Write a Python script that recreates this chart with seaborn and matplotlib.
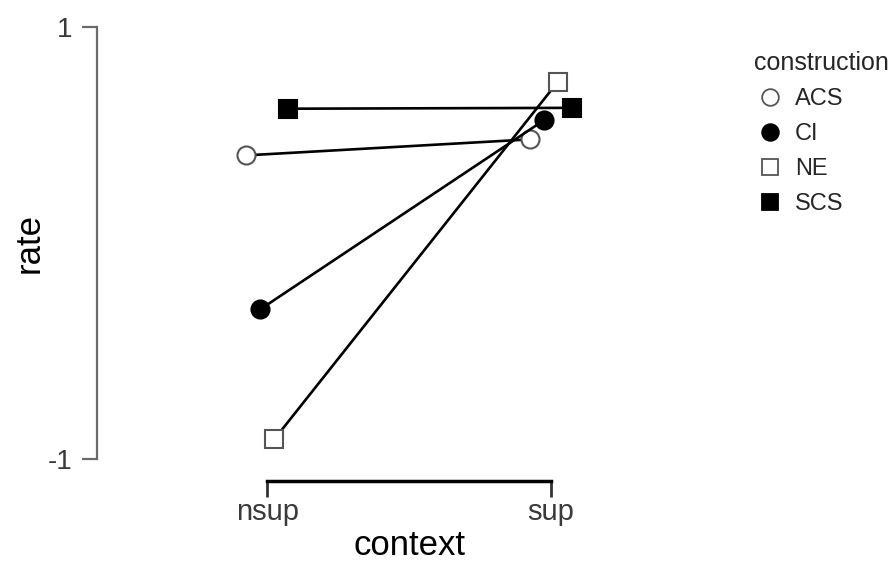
import pandas as pd
import matplotlib
matplotlib.use('Agg')
import matplotlib.pyplot as plt
import seaborn as sns
from matplotlib.lines import Line2D

contexts = ['nsup', 'sup']
constructions = ['ACS', 'CI', 'NE', 'SCS']
acs = [0.407, 0.481]
ci = [-0.306, 0.569]
ne = [-0.907, 0.748]
scs = [0.623, 0.627]

rows = []
for name, vals in zip(constructions, [acs, ci, ne, scs]):
    for c, v in zip(contexts, vals):
        rows.append({'context': c, 'construction': name, 'rate': v})
df = pd.DataFrame(rows)

sns.set_style('white')
plt.rcParams['font.family'] = ['Liberation Sans', 'DejaVu Sans']

fig = plt.figure(figsize=(8.95, 5.65), dpi=100)
ax = fig.add_axes([0.1084, 0.1487, 0.6972, 0.8413])

markers = ['o', 'o', 's', 's']
faces = ['white', 'black', 'white', 'black']
sns.pointplot(data=df, x='context', y='rate', hue='construction',
              hue_order=constructions, order=contexts,
              palette=['black'] * 4, markers=markers, linestyles='-',
              dodge=0.15, errorbar=None, ax=ax, legend=False,
              markersize=13, linewidth=1.9)

for ln, fc in zip(ax.lines, faces):
    ln.set_markerfacecolor(fc)
    ln.set_markeredgecolor('black' if fc == 'black' else '#555555')
    ln.set_markeredgewidth(1.5)
    ln.set_zorder(3)

ax.set_xlim(-0.6, 1.6)
ax.set_ylim(-1.1, 1.1)
ax.set_yticks([-1, 1])
ax.set_yticklabels(['-1', '1'])

sns.despine(ax=ax, top=True, right=True)
ax.spines['left'].set_bounds(-1, 1)
ax.spines['left'].set_color('#6a6a6a')
ax.spines['left'].set_linewidth(1.6)
ax.spines['bottom'].set_bounds(0, 1)
ax.spines['bottom'].set_color('black')
ax.spines['bottom'].set_linewidth(2.5)

ax.tick_params(axis='y', length=11, width=1.6, color='#6a6a6a', pad=7,
               labelsize=20, labelcolor='#3a3a3a', left=True)
ax.tick_params(axis='x', length=11.5, width=2, color='#333333', pad=1,
               labelsize=21, labelcolor='#3a3a3a', bottom=True)

ax.set_xlabel('context', fontsize=25, color='black')
ax.set_ylabel('rate', fontsize=25, color='black')
ax.xaxis.set_label_coords(0.5, -0.1)
ax.yaxis.set_label_coords(-0.082, 0.5)

handles = [Line2D([], [], marker=m, linestyle='', markersize=12,
                  markerfacecolor=fc,
                  markeredgecolor='black' if fc == 'black' else '#555555',
                  markeredgewidth=1.3)
           for m, fc in zip(markers, faces)]
leg = fig.legend(handles, constructions, title='construction',
                 loc='upper left', bbox_to_anchor=(0.829, 0.93),
                 frameon=False, fontsize=17, title_fontsize=18,
                 borderpad=0, handletextpad=0.35, labelspacing=0.55,
                 handlelength=1.4)
leg._legend_box.align = 'left'

fig.savefig('out.png', dpi=100)
